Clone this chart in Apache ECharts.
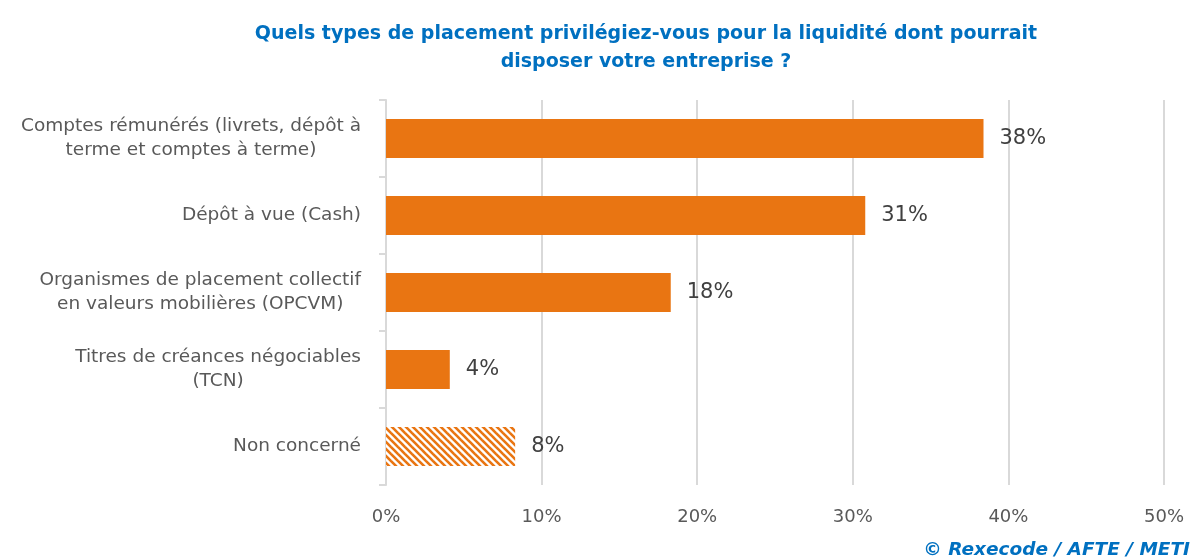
<!DOCTYPE html>
<html>
<head>
<meta charset="utf-8">
<script src="https://cdn.jsdelivr.net/npm/echarts@6/dist/echarts.min.js"></script>
<style>
html,body{margin:0;padding:0;background:#fff;}
#chart{width:1203px;height:560px;}
</style>
</head>
<body>
<div id="chart"></div>
<script>
// libellés des catégories (de haut en bas)
var categories = [
	"Comptes rémunérés (livrets, dépôt à\nterme et comptes à terme)",
	"Dépôt à vue (Cash)",
	"Organismes de placement collectif\nen valeurs mobilières (OPCVM)",
	"Titres de créances négociables\n(TCN)",
	"Non concerné"
];
var values = [38.4, 30.8, 18.3, 4.1, 8.3];
var valueLabels = ["38%", "31%", "18%", "4%", "8%"];
var hatched = [false, false, false, false, true];
var xTicks = ["0%", "10%", "20%", "30%", "40%", "50%"];

var orange = '#E97512';
var font = 'DejaVu Sans';

// motif hachuré pour "Non concerné"
function makeHatch(){
	var c = document.createElement('canvas');
	c.width = 7; c.height = 7;
	var ctx = c.getContext('2d');
	ctx.fillStyle = '#fff';
	ctx.fillRect(0, 0, 7, 7);
	ctx.strokeStyle = orange;
	ctx.lineWidth = 2.6;
	for (var k = -7; k <= 7; k += 7) {
		ctx.beginPath();
		ctx.moveTo(k - 1, -1);
		ctx.lineTo(k + 8, 8);
		ctx.stroke();
	}
	return c;
}
var hatchCanvas = makeHatch();

var seriesData = values.map(function(v, i){
	var item = { value: v };
	if (hatched[i]) {
		item.itemStyle = { color: { image: hatchCanvas, repeat: 'repeat' } };
	}
	return item;
});

var chart = echarts.init(document.getElementById('chart'));
var option = {
	animation: false,
	title: [{
		text: 'Quels types de placement privilégiez-vous pour la liquidité dont pourrait\ndisposer votre entreprise ?',
		left: 641,
		top: 15,
		textAlign: 'center',
		textStyle: {
			color: '#0070C0',
			fontFamily: font,
			fontWeight: 'bold',
			fontSize: 19,
			lineHeight: 28,
			align: 'center'
		}
	}, {
		text: '© Rexecode / AFTE / METI',
		right: 8,
		top: 536,
		textStyle: {
			color: '#0070C0',
			fontFamily: font,
			fontWeight: 'bold',
			fontStyle: 'italic',
			fontSize: 18.5
		}
	}],
	grid: {
		left: 386,
		right: 39,
		top: 100,
		bottom: 75,
		containLabel: false
	},
	xAxis: {
		type: 'value',
		min: 0,
		max: 50,
		interval: 10,
		axisLine: { show: false },
		axisTick: { show: false },
		splitLine: {
			show: true,
			lineStyle: { color: '#D9D9D9', width: 2 }
		},
		axisLabel: {
			color: '#595959',
			fontFamily: font,
			fontSize: 18,
			margin: 23,
			formatter: function(v){ return xTicks[Math.round(v / 10)]; }
		}
	},
	yAxis: {
		type: 'category',
		inverse: true,
		data: categories,
		axisLine: {
			show: true,
			lineStyle: { color: '#D9D9D9', width: 2 }
		},
		axisTick: {
			show: true,
			length: 7,
			lineStyle: { color: '#D9D9D9', width: 2 }
		},
		axisLabel: {
			color: '#595959',
			fontFamily: font,
			fontSize: 18.5,
			margin: 25,
			lineHeight: 24,
			formatter: function(v){
				return v.split('\n').map(function(s){ return '{c|' + s + '}'; }).join('\n');
			},
			rich: {
				c: {
					align: 'center',
					color: '#595959',
					fontFamily: font,
					fontSize: 18.5,
					lineHeight: 24
				}
			}
		}
	},
	series: [{
		type: 'bar',
		data: seriesData,
		barWidth: 39,
		itemStyle: { color: orange },
		label: {
			show: true,
			position: 'right',
			distance: 16,
			color: '#404040',
			fontFamily: font,
			fontSize: 21,
			formatter: function(p){ return valueLabels[p.dataIndex]; }
		}
	}]
};
chart.setOption(option);
</script>
</body>
</html>
